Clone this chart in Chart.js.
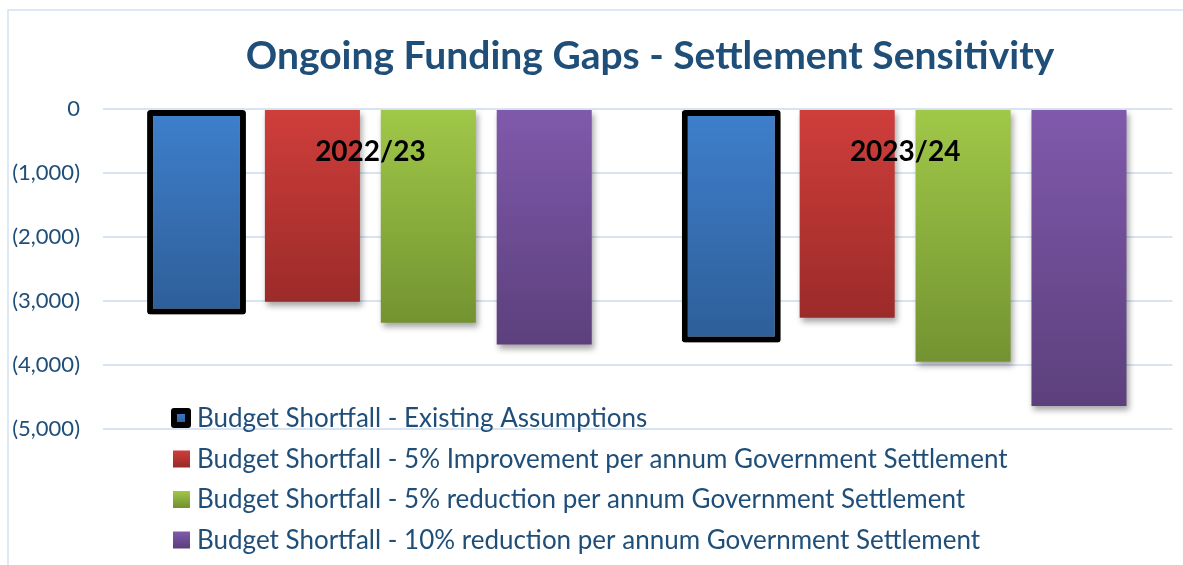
<!DOCTYPE html>
<html>
<head>
<meta charset="utf-8">
<script src="https://cdn.jsdelivr.net/npm/chart.js@4"></script>
<style>
  body { margin: 0; background: #fff; }
  #wrap { width: 1183px; height: 565px; }
</style>
</head>
<body>
<div id="wrap"><canvas id="myChart" width="1183" height="565"></canvas></div>
<script>
// data
const categories = ['2022/23', '2023/24'];
const seriesNames = [
  'Budget Shortfall - Existing Assumptions',
  'Budget Shortfall - 5% Improvement per annum Government Settlement',
  'Budget Shortfall - 5% reduction per annum Government Settlement',
  'Budget Shortfall - 10% reduction per annum Government Settlement'
];
const existingAssumptions = [-3210, -3650];
const improvement5 = [-3010, -3260];
const reduction5 = [-3340, -3950];
const reduction10 = [-3680, -4640];
const yMin = -5000;
const yMax = 0;
const yStep = 1000;

const titleText = 'Ongoing Funding Gaps - Settlement Sensitivity';
const navy = '#1F4E79';
const fontFamily = 'Lato, "Open Sans", sans-serif';

// top / bottom colour of each series gradient
const colours = [
  ['#3F7FCC', '#2D5E98'],
  ['#CF3E3B', '#9B2B29'],
  ['#A0C848', '#739331'],
  ['#8059AC', '#5C407C']
];

// gradient running from the zero line down to the end of each bar
function barGradient(i) {
  return (context) => {
    const chart = context.chart;
    if (!chart.chartArea || context.type !== 'data') return colours[i][0];
    const y = chart.scales.y;
    const top = y.getPixelForValue(0);
    const bottom = y.getPixelForValue(context.raw);
    if (!isFinite(top) || !isFinite(bottom) || top === bottom) return colours[i][0];
    const g = chart.ctx.createLinearGradient(0, top, 0, bottom);
    g.addColorStop(0, colours[i][0]);
    g.addColorStop(1, colours[i][1]);
    return g;
  };
}

const seriesValues = [existingAssumptions, improvement5, reduction5, reduction10];

const data = {
  labels: categories,
  datasets: seriesValues.map((values, i) => ({
    label: seriesNames[i],
    data: values,
    backgroundColor: barGradient(i),
    borderColor: i === 0 ? '#000000' : 'rgba(0,0,0,0)',
    borderWidth: i === 0 ? 6 : 0,
    borderRadius: i === 0 ? 3 : 0,
    borderSkipped: false,
    categoryPercentage: 0.867,
    barPercentage: i === 0 ? 0.853 : 0.82
  }))
};

// frame + title behind the chart
const backdrop = {
  id: 'backdrop',
  beforeDraw(chart) {
    const { ctx, width, height } = chart;
    ctx.save();
    ctx.fillStyle = '#ffffff';
    ctx.fillRect(0, 0, width, height);
    ctx.strokeStyle = '#D5E2F3';
    ctx.lineWidth = 1.5;
    ctx.strokeRect(8, 10, width + 20, height + 20);
    ctx.fillStyle = navy;
    ctx.font = 'bold 39px ' + fontFamily;
    ctx.textAlign = 'center';
    ctx.textBaseline = 'alphabetic';
    ctx.fillText(titleText, 650, 69);
    ctx.restore();
  }
};

// soft drop shadow under the bars
const barShadow = {
  id: 'barShadow',
  beforeDatasetsDraw(chart) {
    const ctx = chart.ctx;
    ctx.save();
    ctx.shadowColor = 'rgba(0, 0, 0, 0.35)';
    ctx.shadowBlur = 6;
    ctx.shadowOffsetX = 2;
    ctx.shadowOffsetY = 4;
  },
  afterDatasetsDraw(chart) {
    chart.ctx.restore();
  }
};

// category names sit just under the zero line, on top of the bars
const categoryLabels = {
  id: 'categoryLabels',
  afterDatasetsDraw(chart) {
    const { ctx, scales: { x, y } } = chart;
    ctx.save();
    ctx.font = 'bold 28px ' + fontFamily;
    ctx.fillStyle = '#000000';
    ctx.textAlign = 'center';
    ctx.textBaseline = 'middle';
    categories.forEach((c, i) => {
      ctx.fillText(c, x.getPixelForValue(i), y.getPixelForValue(0) + 43);
    });
    ctx.restore();
  }
};

// legend block drawn over the lower left of the plot
const legendBlock = {
  id: 'legendBlock',
  afterDraw(chart) {
    const ctx = chart.ctx;
    const left = 172;
    const top = 418;
    const rowGap = 40.5;
    ctx.save();
    ctx.font = '26px ' + fontFamily;
    ctx.textBaseline = 'middle';
    ctx.textAlign = 'left';
    chart.data.datasets.forEach((ds, i) => {
      const cy = top + i * rowGap;
      const g = ctx.createLinearGradient(0, cy - 8, 0, cy + 8);
      g.addColorStop(0, colours[i][0]);
      g.addColorStop(1, colours[i][1]);
      if (i === 0) {
        ctx.fillStyle = '#000000';
        ctx.beginPath();
        ctx.roundRect(left - 1, cy - 10, 20, 20, 3);
        ctx.fill();
        ctx.fillStyle = g;
        ctx.fillRect(left + 5, cy - 4, 8, 8);
      } else {
        ctx.fillStyle = g;
        ctx.fillRect(left + 1, cy - 8, 17, 17);
      }
      ctx.fillStyle = navy;
      ctx.fillText(ds.label, 197, cy + 1);
    });
    ctx.restore();
  }
};

const config = {
  type: 'bar',
  data,
  options: {
    responsive: false,
    animation: false,
    layout: {
      padding: { top: 109, bottom: 136, left: 0, right: 10.5 }
    },
    plugins: {
      legend: { display: false },
      title: { display: false },
      tooltip: { enabled: false }
    },
    scales: {
      x: {
        display: false
      },
      y: {
        min: yMin,
        max: yMax,
        ticks: {
          stepSize: yStep,
          padding: 23,
          color: navy,
          font: { family: fontFamily, size: 22 },
          callback: (v) => v < 0 ? '(' + Math.abs(v).toLocaleString('en-US') + ')' : String(v)
        },
        grid: {
          color: '#D9E4F2',
          lineWidth: 2,
          drawTicks: false
        },
        border: { display: false },
        afterFit(scale) {
          scale.width = 103;
        }
      }
    }
  },
  plugins: [backdrop, barShadow, categoryLabels, legendBlock]
};

const myChart = new Chart(document.getElementById('myChart'), config);
</script>
</body>
</html>
